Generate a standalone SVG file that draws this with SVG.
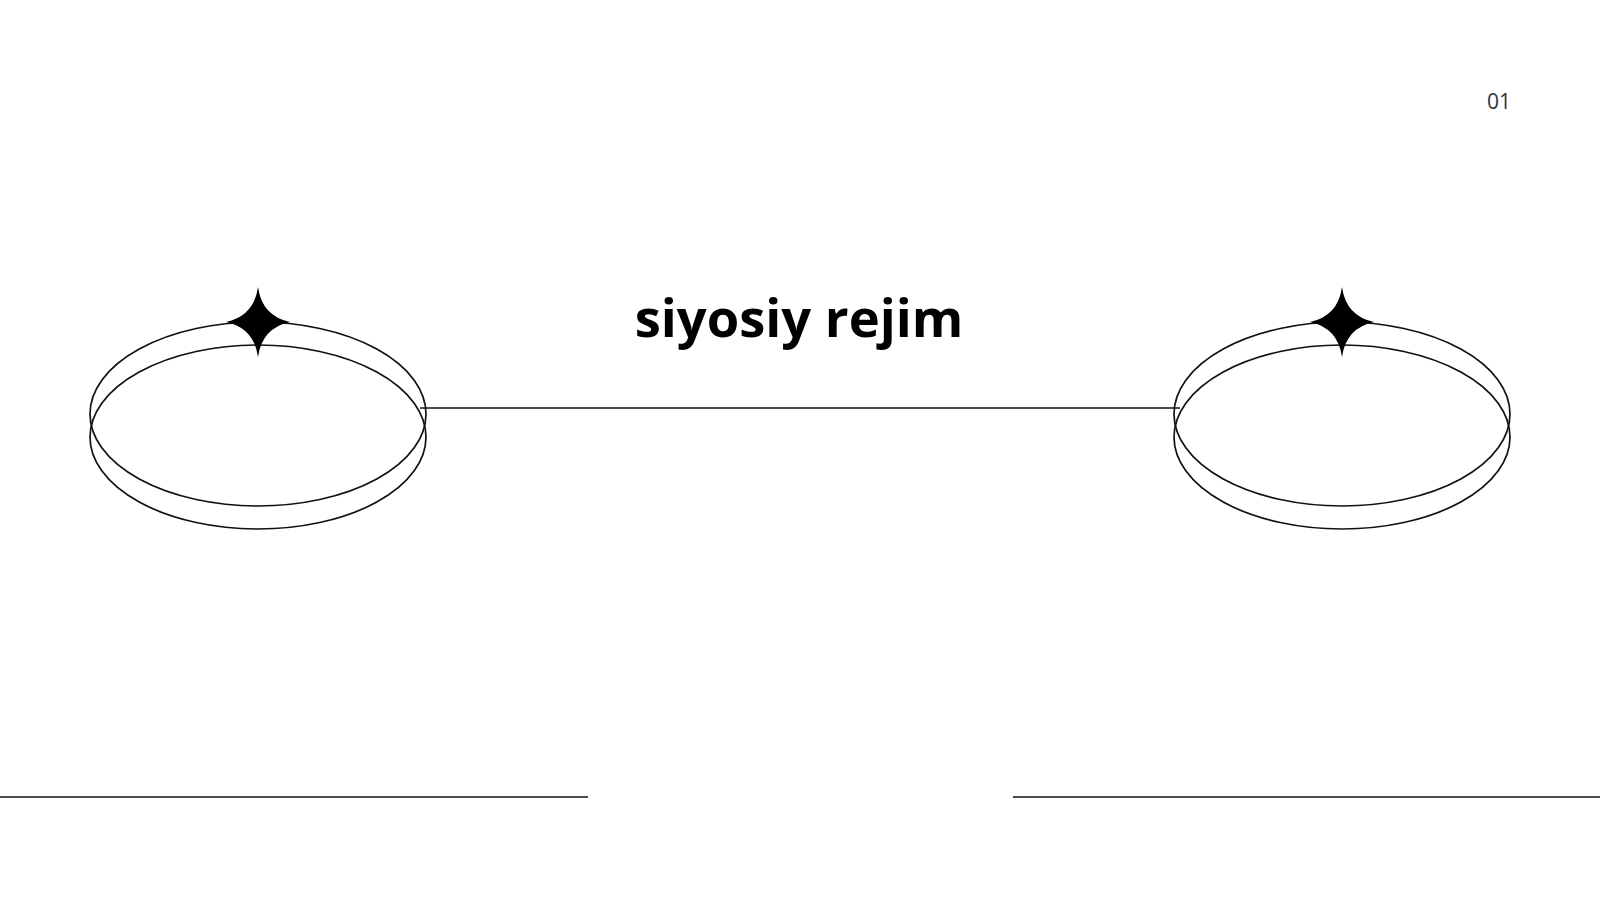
<svg xmlns="http://www.w3.org/2000/svg" width="1600" height="900" viewBox="0 0 1600 900">
<style>
.l{fill:none;stroke:#111;stroke-width:1.7}
.s{fill:#000}
</style>
<defs>
<path id="star" class="s" d="M0,-35 Q4,-6 32,0 Q4,6 0,35 Q-4,6 -32,0 Q-4,-6 0,-35Z"/>
</defs>
<rect width="1600" height="900" fill="#fff"/>
<g id="connectors">
<line class="l" x1="420" y1="408" x2="1180" y2="408"/>
<line class="l" x1="0" y1="797" x2="588" y2="797"/>
<line class="l" x1="1013" y1="797" x2="1600" y2="797"/>
</g>
<g id="left-node">
<ellipse class="l" cx="258" cy="414" rx="168" ry="92"/>
<ellipse class="l" cx="258" cy="437" rx="168" ry="92"/>
<use href="#star" x="258" y="322"/>
</g>
<g id="right-node">
<ellipse class="l" cx="1342" cy="414" rx="168" ry="92"/>
<ellipse class="l" cx="1342" cy="437" rx="168" ry="92"/>
<use href="#star" x="1342" y="322"/>
</g>
<g id="title">
<text x="799" y="337" text-anchor="middle" font-family="Open Sans, sans-serif" font-weight="bold" font-size="52.5" fill="#000">siyosiy rejim</text>
</g>
<g id="page">
<text x="1499" y="109" text-anchor="middle" font-family="Open Sans, sans-serif" font-size="21" fill="#333">01</text>
</g>
</svg>
